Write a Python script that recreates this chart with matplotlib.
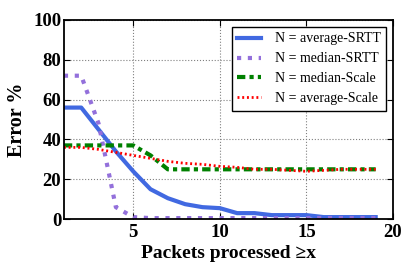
import matplotlib
matplotlib.use("Agg")
import matplotlib.pyplot as plt

# donnees
x = list(range(1, 20))
avg_srtt = [56, 56, 45, 34, 24, 15, 10.5, 7.5, 6, 5.5, 3, 3, 2, 2, 2, 1, 1, 1, 1]
med_srtt = [72, 72, 48, 6, 1, 0.5, 0.5, 0.5, 0.5, 0.5, 0.5, 0.5, 0.5, 0.5, 0.5, 0.5, 0.5, 0.5, 0.5]
med_scale = [37, 37, 37, 37, 37, 32, 25, 25, 25, 25, 25, 25, 25, 25, 25, 25, 25, 25, 25]
avg_scale = [36, 36, 35, 33.5, 32, 30.5, 29, 28, 27.5, 26.5, 26, 25, 25, 24.5, 24, 24.5, 25, 25, 25]

labels = ["N = average-SRTT", "N = median-SRTT", "N = median-Scale", "N = average-Scale"]

plt.rcParams['font.family'] = ['Liberation Serif', 'DejaVu Serif']

fig = plt.figure(figsize=(4.15, 2.77), dpi=100)
ax = fig.add_axes([0.154, 0.209, 0.793, 0.719])

ax.plot(x, avg_srtt, color='royalblue', lw=3, ls='-', label=labels[0])
ax.plot(x, med_srtt, color='mediumpurple', lw=3, ls=(0, (1, 1.6)), label=labels[1])
ax.plot(x, med_scale, color='green', lw=3, ls=(0, (2, 1, 1, 1)), label=labels[2])
ax.plot(x, avg_scale, color='red', lw=2, ls=(0, (0.7, 1.0)), label=labels[3])

ax.set_xlim(1, 20)
ax.set_ylim(0, 100)
ax.set_xticks([5, 10, 15, 20])
ax.set_yticks([0, 20, 40, 60, 80, 100])
ax.tick_params(direction='in', top=True, right=True, labelsize=13.5, length=4)
ax.tick_params(axis='y', pad=2)
for lab in ax.get_xticklabels() + ax.get_yticklabels():
    lab.set_fontweight('bold')
for s in ax.spines.values():
    s.set_linewidth(1.3)
ax.grid(True, ls=':', color='gray', lw=0.8)

ax.set_xlabel('Packets processed \u2265x', fontsize=14, fontweight='bold', labelpad=3)
ax.set_ylabel('Error %', fontsize=14.5, fontweight='bold', labelpad=4)

leg = ax.legend(loc='upper right', fontsize=10, fancybox=False, framealpha=1,
                edgecolor='black', handlelength=1.7, handletextpad=1.0,
                borderpad=0.4, labelspacing=0.5)
leg.get_frame().set_linewidth(1.0)

fig.savefig('out.png', dpi=100)
